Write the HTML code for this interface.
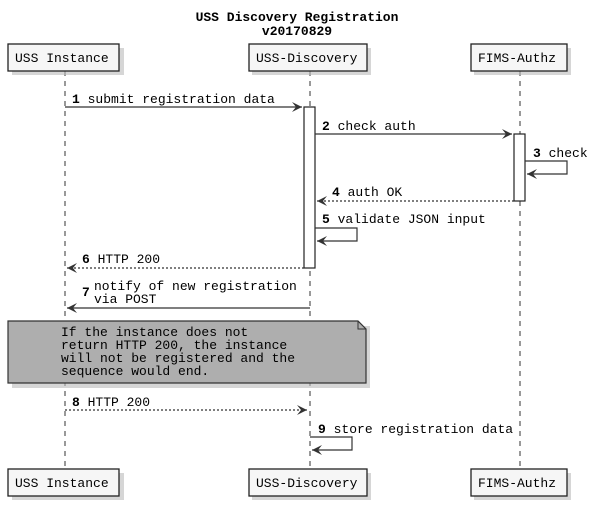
<!DOCTYPE html>
<html><head><meta charset="utf-8"><style>
html,body{margin:0;padding:0;background:#fff}
svg{display:block}
text{font-family:"Liberation Mono",monospace;font-size:13px;fill:#000}
.b{font-weight:bold}
</style></head><body>
<svg width="594" height="506" viewBox="0 0 594 506">
<defs>
<marker id="a" markerWidth="12" markerHeight="10" refX="10" refY="5" orient="auto" markerUnits="userSpaceOnUse">
<path d="M0,0 L10,5 L0,10 L4,5 Z" fill="#333"/>
</marker>
</defs>
<text x="297" y="21" text-anchor="middle" class="b">USS Discovery Registration</text>
<text x="297" y="35" text-anchor="middle" class="b">v20170829</text>
<g stroke="#333" stroke-dasharray="5,5" stroke-width="1">
<line x1="65" y1="71" x2="65" y2="467"/>
<line x1="310" y1="71" x2="310" y2="467"/>
<line x1="520" y1="71" x2="520" y2="467"/>
</g>
<g fill="#bbb" opacity="0.6">
<rect x="12" y="48" width="112" height="27"/><rect x="252" y="48" width="119" height="27"/><rect x="474" y="48" width="97" height="27"/>
<rect x="12" y="473" width="112" height="27"/><rect x="252" y="473" width="119" height="27"/><rect x="474" y="473" width="97" height="27"/>
<rect x="12" y="326" width="358" height="62"/>
</g>
<g fill="#f6f6f6" stroke="#222" stroke-width="1.3">
<rect x="8" y="44" width="111" height="27"/><rect x="249" y="44" width="118" height="27"/><rect x="471" y="44" width="96" height="27"/>
<rect x="8" y="469" width="111" height="27"/><rect x="249" y="469" width="118" height="27"/><rect x="471" y="469" width="96" height="27"/>
</g>
<text x="15" y="62">USS Instance</text><text x="256" y="62">USS-Discovery</text><text x="478" y="62">FIMS-Authz</text>
<text x="15" y="487">USS Instance</text><text x="256" y="487">USS-Discovery</text><text x="478" y="487">FIMS-Authz</text>
<g fill="#fff" stroke="#222" stroke-width="1.2">
<rect x="304" y="107" width="11" height="161"/>
<rect x="514" y="134" width="11" height="67"/>
</g>
<g stroke="#333" stroke-width="1.2" fill="none">
<line x1="65" y1="107" x2="302" y2="107" marker-end="url(#a)"/>
<line x1="315" y1="134" x2="512" y2="134" marker-end="url(#a)"/>
<polyline points="525,161 567,161 567,174 527,174" marker-end="url(#a)"/>
<line x1="514" y1="201" x2="317" y2="201" stroke-dasharray="2,2" marker-end="url(#a)"/>
<polyline points="315,228 357,228 357,241 317,241" marker-end="url(#a)"/>
<line x1="304" y1="268" x2="67" y2="268" stroke-dasharray="2,2" marker-end="url(#a)"/>
<line x1="310" y1="308" x2="67" y2="308" marker-end="url(#a)"/>
<line x1="65" y1="410" x2="307" y2="410" stroke-dasharray="2,2" marker-end="url(#a)"/>
<polyline points="310,437 352,437 352,450 312,450" marker-end="url(#a)"/>
</g>
<path d="M8,321 L358,321 L366,329 L366,383 L8,383 Z" fill="#aeaeae" stroke="#333" stroke-width="1.2"/>
<path d="M358,321 L358,329 L366,329" fill="none" stroke="#333" stroke-width="1"/>
<text x="61" y="336">If the instance does not</text>
<text x="61" y="349">return HTTP 200, the instance</text>
<text x="61" y="362">will not be registered and the</text>
<text x="61" y="375">sequence would end.</text>
<text x="72" y="103"><tspan class="b">1</tspan> submit registration data</text>
<text x="322" y="130"><tspan class="b">2</tspan> check auth</text>
<text x="533" y="157"><tspan class="b">3</tspan> check</text>
<text x="332" y="196"><tspan class="b">4</tspan> auth OK</text>
<text x="322" y="223"><tspan class="b">5</tspan> validate JSON input</text>
<text x="82" y="263"><tspan class="b">6</tspan> HTTP 200</text>
<text x="82" y="296" class="b">7</text>
<text x="94" y="290">notify of new registration</text>
<text x="94" y="303">via POST</text>
<text x="72" y="406"><tspan class="b">8</tspan> HTTP 200</text>
<text x="318" y="433"><tspan class="b">9</tspan> store registration data</text>
</svg>
</body></html>
